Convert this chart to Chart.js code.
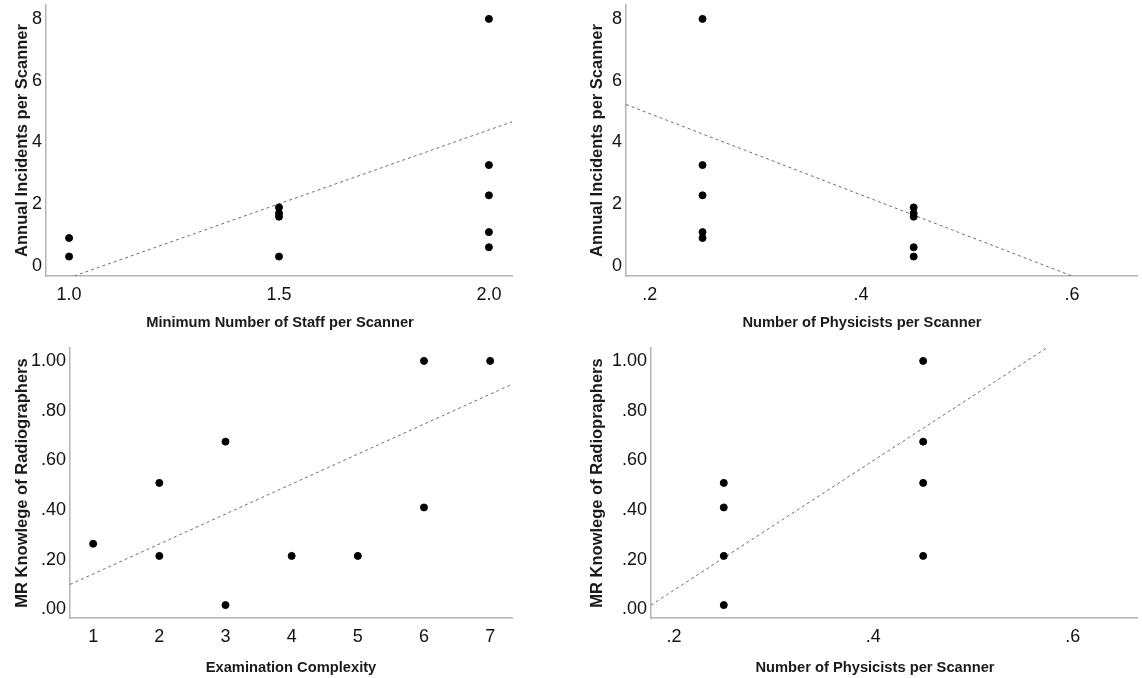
<!DOCTYPE html>
<html>
<head>
<meta charset="utf-8">
<script src="https://cdn.jsdelivr.net/npm/chart.js@4.4.0/dist/chart.umd.min.js"></script>
<style>
  html, body { margin: 0; padding: 0; background: #fff; overflow: hidden; }
  #wrap { position: relative; width: 1142px; height: 678px; }
  canvas { position: absolute; }
</style>
</head>
<body>
<div id="wrap">
  <canvas id="c1" width="570" height="340" style="left:0;top:0"></canvas>
  <canvas id="c2" width="572" height="340" style="left:570px;top:0"></canvas>
  <canvas id="c3" width="570" height="338" style="left:0;top:340px"></canvas>
  <canvas id="c4" width="572" height="338" style="left:570px;top:340px"></canvas>
</div>
<script>
// panel 1: staff vs incidents
const staffX = [1.0, 1.0, 1.5, 1.5, 1.5, 1.5, 2.0, 2.0, 2.0, 2.0, 2.0]
const staffIncidents = [0.91, 0.31, 1.9, 1.71, 1.6, 0.31, 8.0, 3.27, 2.29, 1.1, 0.61]
const staffFitX = [1.012, 2.055]
const staffFitY = [-0.32, 4.67]

// panel 2: physicists vs incidents
const physX = [0.25, 0.25, 0.25, 0.25, 0.25, 0.45, 0.45, 0.45, 0.45, 0.45]
const physIncidents = [8.0, 3.27, 2.29, 1.1, 0.91, 1.9, 1.71, 1.6, 0.61, 0.31]
const physFitX = [0.1775, 0.6]
const physFitY = [5.23, -0.32]

// panel 3: complexity vs knowledge
const complexX = [1, 2, 2, 3, 3, 4, 5, 6, 6, 7]
const complexKnow = [0.264, 0.509, 0.215, 0.675, 0.017, 0.215, 0.215, 1.0, 0.41, 1.0]
const complexFitX = [0.65, 7.33]
const complexFitY = [0.10, 0.906]

// panel 4: physicists vs knowledge
const phys2X = [0.25, 0.25, 0.25, 0.25, 0.45, 0.45, 0.45, 0.45]
const phys2Know = [0.509, 0.41, 0.215, 0.017, 1.0, 0.675, 0.509, 0.215]
const phys2FitX = [0.177, 0.575]
const phys2FitY = [0.017, 1.055]

// ticks
const incidentTicks = [0, 2, 4, 6, 8]
const incidentLabels = ['0', '2', '4', '6', '8']
const staffTicks = [1.0, 1.5, 2.0]
const staffLabels = ['1.0', '1.5', '2.0']
const physTicks = [0.2, 0.4, 0.6]
const physLabels = ['.2', '.4', '.6']
const complexTicks = [1, 2, 3, 4, 5, 6, 7]
const complexLabels = ['1', '2', '3', '4', '5', '6', '7']
const knowTicks = [0, 0.2, 0.4, 0.6, 0.8, 1.0]
const knowLabels = ['.00', '.20', '.40', '.60', '.80', '1.00']

const FONT = "'Liberation Sans', Arial, sans-serif"
const AXIS_COLOR = '#b4b4b4'

const pts = (xs, ys) => xs.map((x, i) => ({ x, y: ys[i] }))

// draws the x-axis title centred at a given canvas x
const xTitlePlugin = {
  id: 'xTitle',
  afterDraw(chart, args, opts) {
    const ctx = chart.ctx
    ctx.save()
    ctx.font = `bold 14.7px ${FONT}`
    ctx.fillStyle = '#1a1a1a'
    ctx.textAlign = 'center'
    ctx.textBaseline = 'middle'
    ctx.fillText(opts.text, opts.cx, opts.cy)
    ctx.restore()
  }
}

function makePanel(id, p) {
  new Chart(document.getElementById(id), {
    type: 'scatter',
    data: {
      datasets: [
        {
          data: pts(p.xs, p.ys),
          backgroundColor: '#000',
          borderColor: '#000',
          pointRadius: 3.5,
          pointHoverRadius: 3.5
        },
        {
          type: 'line',
          data: pts(p.fitX, p.fitY),
          borderColor: '#6e6e6e',
          borderWidth: 1,
          borderDash: [3, 3],
          pointRadius: 0,
          fill: false
        }
      ]
    },
    options: {
      responsive: false,
      animation: false,
      devicePixelRatio: 1,
      layout: { padding: { left: 0, right: p.padRight, top: p.padTop, bottom: 0 } },
      plugins: {
        legend: { display: false },
        tooltip: { enabled: false },
        xTitle: { text: p.xTitle, cx: p.titleCx, cy: p.titleCy }
      },
      scales: {
        x: {
          type: 'linear',
          min: p.xMin,
          max: p.xMax,
          grid: { display: false, drawTicks: false },
          border: { display: true, color: AXIS_COLOR, width: 1.5 },
          afterBuildTicks: s => { s.ticks = p.xTicks.map(v => ({ value: v })) },
          afterFit: s => {
            s.height = p.xAxisH
            s.paddingLeft = 0
            s.paddingRight = 0
          },
          ticks: {
            autoSkip: false,
            maxRotation: 0,
            padding: 8,
            color: '#111',
            font: { family: FONT, size: 18 },
            callback: (v) => p.xLabels[p.xTicks.findIndex(t => Math.abs(t - v) < 1e-6)]
          }
        },
        y: {
          type: 'linear',
          min: p.yMin,
          max: p.yMax,
          grid: { display: false, drawTicks: false },
          border: { display: true, color: AXIS_COLOR, width: 1.5 },
          afterBuildTicks: s => { s.ticks = p.yTicks.map(v => ({ value: v })) },
          afterFit: s => {
            s.width = p.yAxisW
            s.paddingTop = 0
            s.paddingBottom = 0
          },
          title: {
            display: true,
            text: p.yTitle,
            color: '#1a1a1a',
            font: { family: FONT, size: 16.5, weight: 'bold' },
            padding: { top: p.yTitlePad, bottom: 0 }
          },
          ticks: {
            autoSkip: false,
            padding: 4,
            color: '#111',
            font: { family: FONT, size: 18 },
            callback: (v) => p.yLabels[p.yTicks.findIndex(t => Math.abs(t - v) < 1e-6)]
          }
        }
      }
    },
    plugins: [xTitlePlugin]
  })
}

makePanel('c1', {
  xs: staffX, ys: staffIncidents, fitX: staffFitX, fitY: staffFitY,
  xMin: 0.945, xMax: 2.055, yMin: -0.32, yMax: 8.45,
  xTicks: staffTicks, xLabels: staffLabels, yTicks: incidentTicks, yLabels: incidentLabels,
  padRight: 58, padTop: 5, xAxisH: 64, yAxisW: 46, yTitlePad: 12.9,
  xTitle: 'Minimum Number of Staff per Scanner', titleCx: 280, titleCy: 323,
  yTitle: 'Annual Incidents per Scanner'
})

makePanel('c2', {
  xs: physX, ys: physIncidents, fitX: physFitX, fitY: physFitY,
  xMin: 0.1775, xMax: 0.662, yMin: -0.32, yMax: 8.45,
  xTicks: physTicks, xLabels: physLabels, yTicks: incidentTicks, yLabels: incidentLabels,
  padRight: 0, padTop: 5, xAxisH: 64, yAxisW: 56, yTitlePad: 17.6,
  xTitle: 'Number of Physicists per Scanner', titleCx: 292, titleCy: 323,
  yTitle: 'Annual Incidents per Scanner'
})

makePanel('c3', {
  xs: complexX, ys: complexKnow, fitX: complexFitX, fitY: complexFitY,
  xMin: 0.65, xMax: 7.33, yMin: -0.035, yMax: 1.052,
  xTicks: complexTicks, xLabels: complexLabels, yTicks: knowTicks, yLabels: knowLabels,
  padRight: 58, padTop: 8, xAxisH: 60, yAxisW: 70, yTitlePad: 12.1,
  xTitle: 'Examination Complexity', titleCx: 291, titleCy: 328,
  yTitle: 'MR Knowlege of Radiographers'
})

makePanel('c4', {
  xs: phys2X, ys: phys2Know, fitX: phys2FitX, fitY: phys2FitY,
  xMin: 0.177, xMax: 0.665, yMin: -0.035, yMax: 1.052,
  xTicks: physTicks, xLabels: physLabels, yTicks: knowTicks, yLabels: knowLabels,
  padRight: 0, padTop: 8, xAxisH: 60, yAxisW: 81, yTitlePad: 17.6,
  xTitle: 'Number of Physicists per Scanner', titleCx: 305, titleCy: 328,
  yTitle: 'MR Knowlege of Radiopraphers'
})
</script>
</body>
</html>
